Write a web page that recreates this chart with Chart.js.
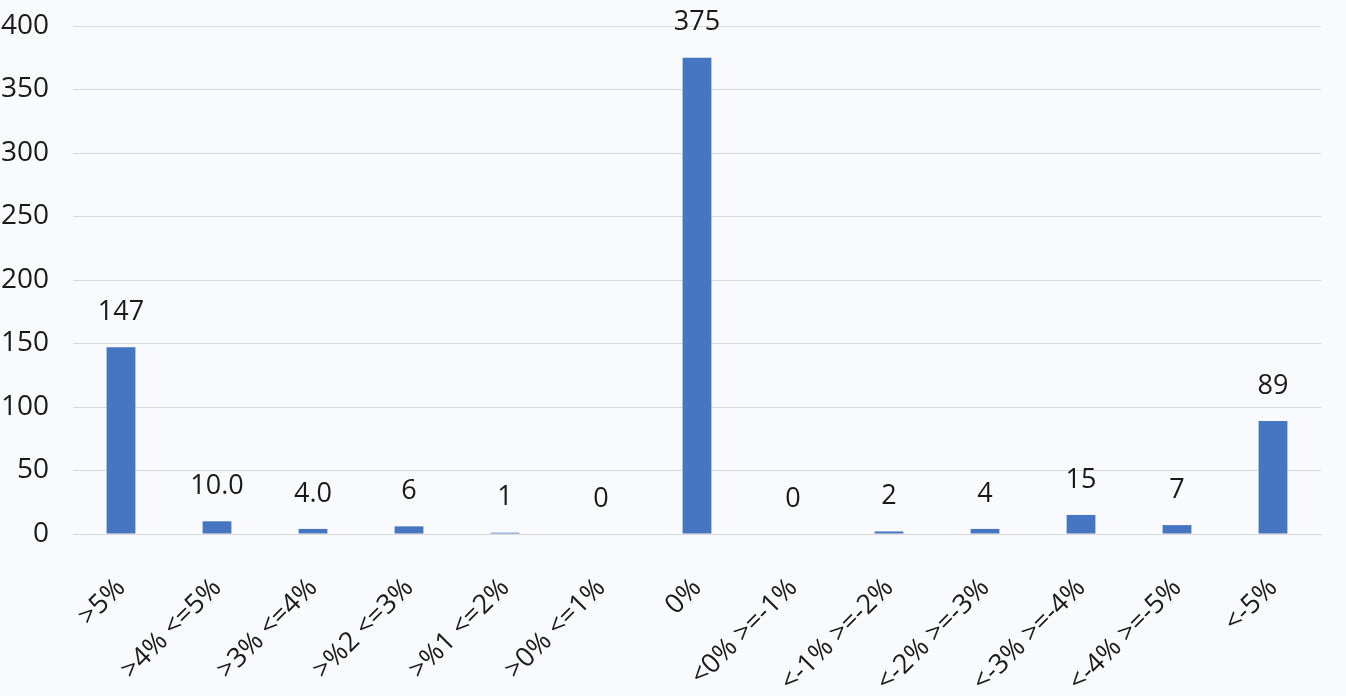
<!DOCTYPE html>
<html>
<head>
<meta charset="utf-8">
<script src="https://cdn.jsdelivr.net/npm/chart.js@4"></script>
<style>
  html, body { margin: 0; padding: 0; background: #f9fafd; }
  #wrap { width: 1346px; height: 696px; }
</style>
</head>
<body>
<div id="wrap"><canvas id="chart" width="1346" height="696"></canvas></div>
<script>
// categories along the x axis
const categories = ['>5%', '>4% <=5%', '>3% <=4%', '>%2 <=3%', '>%1 <=2%', '>0% <=1%', '0%',
  '<0% >=-1%', '<-1% >=-2%', '<-2% >=-3%', '<-3% >=-4%', '<-4% >=-5%', '<-5%'];

// counts per category
const counts = [147, 10, 4, 6, 1, 0, 375, 0, 2, 4, 15, 7, 89];

// data labels as printed above the bars
const valueLabels = ['147', '10.0', '4.0', '6', '1', '0', '375', '0', '2', '4', '15', '7', '89'];

const yMax = 400;
const yStep = 50;

const fontFamily = '"Open Sans", Lato, sans-serif';

// draw value labels above each bar
const barLabels = {
  id: 'barLabels',
  afterDatasetsDraw(chart) {
    const ctx = chart.ctx;
    const meta = chart.getDatasetMeta(0);
    ctx.save();
    ctx.font = '27px ' + fontFamily;
    ctx.fillStyle = '#1a1a1a';
    ctx.textAlign = 'center';
    ctx.textBaseline = 'middle';
    meta.data.forEach((bar, i) => {
      ctx.fillText(valueLabels[i], bar.x, bar.y - 35);
    });
    ctx.restore();
  }
};

new Chart(document.getElementById('chart'), {
  type: 'bar',
  data: {
    labels: categories,
    datasets: [{
      data: counts,
      backgroundColor: '#4675c2',
      borderWidth: 0,
      barPercentage: 0.6,
      categoryPercentage: 0.5
    }]
  },
  options: {
    responsive: false,
    animation: false,
    layout: { padding: { top: 0, right: 25, left: 0, bottom: 0 } },
    plugins: {
      legend: { display: false },
      tooltip: { enabled: false }
    },
    scales: {
      x: {
        grid: { display: false },
        border: { color: '#d9d9d9' },
        afterFit(scale) { scale.height = 162; },
        ticks: {
          color: '#1a1a1a',
          font: { family: fontFamily, size: 27 },
          minRotation: 45,
          maxRotation: 45,
          padding: 30
        }
      },
      y: {
        min: 0,
        max: yMax,
        afterFit(scale) {
          scale.width = 73;
          scale.paddingTop = 26;
        },
        ticks: {
          stepSize: yStep,
          color: '#1a1a1a',
          font: { family: fontFamily, size: 28 },
          padding: 24
        },
        grid: { color: '#d9d9d9', drawTicks: false },
        border: { display: false }
      }
    }
  },
  plugins: [barLabels]
});
</script>
</body>
</html>
